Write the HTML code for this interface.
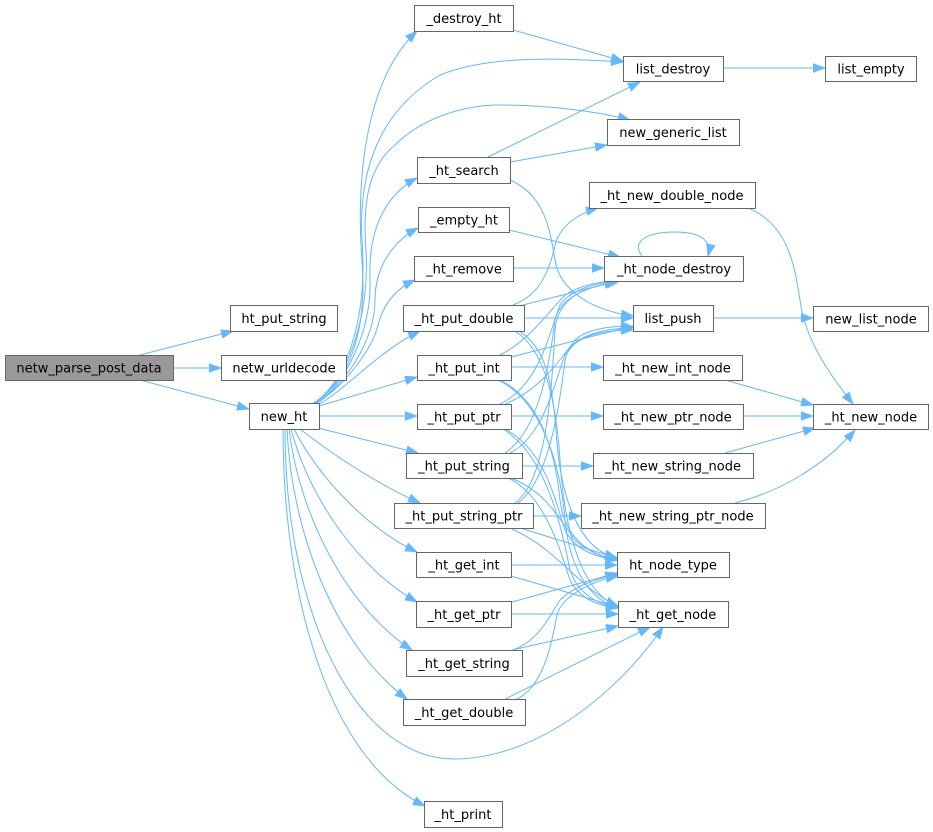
<!DOCTYPE html>
<html><head><meta charset="utf-8"><style>
html,body{margin:0;padding:0;background:#fff;}
svg{display:block;}
text{font-family:"DejaVu Sans","Liberation Sans",sans-serif;font-size:13px;fill:#000;text-anchor:middle;}
.n{fill:#fff;stroke:#666;stroke-width:1;}
.e{fill:none;stroke:#63b8ff;stroke-width:1;}
</style></head><body>
<svg width="933" height="832" viewBox="0 0 933 832" xmlns="http://www.w3.org/2000/svg">
<defs>
<marker id="a" markerWidth="13" markerHeight="11" refX="12" refY="5.5" orient="auto" markerUnits="userSpaceOnUse">
<path d="M0,1 L12.5,5.5 L0,10z" fill="#63b8ff" stroke="#63b8ff" stroke-width="0.5"/>
</marker>
</defs>
<g class="e" marker-end="url(#a)">
<!-- root -->
<path d="M140,355 L233,331"/>
<path d="M173,368 L221,368"/>
<path d="M140,380 L249,409"/>
<!-- new_ht upward -->
<path d="M312,404 C345,385 368,340 362,260 C356,180 365,80 417,31"/>
<path d="M312,404 C345,385 368,320 362,240 C358,170 380,110 440,75 C490,55 560,58 623,62"/>
<path d="M314,404 C345,385 370,320 366,250 C362,200 370,165 395,145 C420,120 460,105 500,105 C550,105 600,112 630,120"/>
<path d="M316,404 C345,385 372,330 370,280 C368,230 385,195 417,178"/>
<path d="M316,404 C345,385 375,340 375,300 C375,265 395,240 418,228"/>
<path d="M316,404 C345,385 372,350 378,325 C385,300 398,288 415,280"/>
<path d="M318,405 C345,390 380,350 420,331"/>
<path d="M319,406 L417,377"/>
<path d="M319,416 L417,416"/>
<path d="M318,428 L418,453"/>
<path d="M300,429 C340,460 380,485 420,503"/>
<path d="M294,429 C320,480 370,530 417,552"/>
<path d="M291,429 C310,500 360,570 417,602"/>
<path d="M289,429 C300,520 350,610 412,650"/>
<path d="M287,429 C292,540 340,650 407,699"/>
<path d="M285,429 C285,620 360,760 455,759 C540,758 620,690 663,627"/>
<path d="M283,429 C283,600 330,760 425,806"/>
<!-- top area -->
<path d="M513,30 L623,61"/>
<path d="M723,68 L825,68"/>
<path d="M488,157 L640,82"/>
<path d="M510,162 L607,145"/>
<path d="M510,180 C545,195 550,230 555,260 C560,290 590,310 633,316"/>
<path d="M509,230 L620,257"/>
<path d="M513,268 L604,268"/>
<path d="M642,256 C630,240 650,232 675,232 C700,232 712,240 708,256"/>
<!-- put_double -->
<path d="M513,305 C540,295 550,270 555,245 C560,225 580,213 598,208"/>
<path d="M523,305 L618,281"/>
<path d="M524,318 L633,318"/>
<path d="M517,330 C545,345 552,380 556,430 C560,500 580,550 617,558"/>
<path d="M515,331 C545,350 556,400 560,460 C565,540 585,595 618,606"/>
<!-- put_int -->
<path d="M511,367 L603,367"/>
<path d="M511,357 L633,326"/>
<path d="M500,355 C530,340 550,310 565,295 C580,285 600,282 617,280"/>
<path d="M500,380 C540,400 555,450 560,500 C565,540 590,555 618,560"/>
<path d="M498,380 C540,400 560,460 565,520 C570,570 590,600 618,608"/>
<!-- put_ptr -->
<path d="M511,416 L603,416"/>
<path d="M505,404 C540,390 560,360 575,340 C585,330 610,325 633,327"/>
<path d="M500,404 C540,385 550,330 560,305 C570,290 595,283 617,281"/>
<path d="M505,429 C545,450 555,500 565,530 C575,550 595,557 618,560"/>
<path d="M503,429 C545,455 560,520 570,570 C578,595 600,605 618,608"/>
<!-- put_string -->
<path d="M522,466 L593,466"/>
<path d="M510,453 C545,435 555,380 565,355 C575,335 605,328 633,328"/>
<path d="M505,453 C540,430 550,360 555,320 C560,295 595,285 617,282"/>
<path d="M510,478 C545,490 560,520 575,540 C590,553 605,558 618,560"/>
<path d="M508,478 C545,495 560,550 570,580 C580,600 600,606 618,608"/>
<!-- put_string_ptr -->
<path d="M533,516 L581,516"/>
<path d="M518,503 C550,480 560,400 565,360 C570,335 605,330 633,330"/>
<path d="M515,503 C548,480 552,380 555,330 C558,295 590,285 617,283"/>
<path d="M520,528 L617,558"/>
<path d="M510,528 C560,550 580,590 618,606"/>
<!-- gets -->
<path d="M511,565 L617,565"/>
<path d="M511,576 L618,607"/>
<path d="M512,602 L617,573"/>
<path d="M511,614 L618,614"/>
<path d="M513,650 C540,640 550,615 560,600 C575,585 600,578 618,574"/>
<path d="M512,650 L618,626"/>
<path d="M517,699 C545,685 552,640 557,615 C562,595 595,580 618,576"/>
<path d="M505,699 L650,627"/>
<!-- right side -->
<path d="M713,318 L813,318"/>
<path d="M748,208 C790,225 795,270 800,300 C805,340 830,375 853,404"/>
<path d="M725,380 L813,405"/>
<path d="M743,416 L813,416"/>
<path d="M725,453 L815,428"/>
<path d="M735,503 C775,493 820,470 855,430"/>
</g>
<!-- nodes -->
<rect x="5.5" y="355.5" width="168" height="25" fill="#999" stroke="#666"/>
<text x="89" y="372.5">netw_parse_post_data</text>
<rect class="n" x="230.5" y="305.5" width="107" height="26"/><text x="284" y="323">ht_put_string</text>
<rect class="n" x="221.5" y="355.5" width="125" height="25"/><text x="284" y="372.5">netw_urldecode</text>
<rect class="n" x="249.5" y="403.5" width="70" height="26"/><text x="284" y="421">new_ht</text>
<rect class="n" x="414.5" y="5.5" width="99" height="26"/><text x="464" y="23">_destroy_ht</text>
<rect class="n" x="623.5" y="56.5" width="100" height="25"/><text x="673" y="73.5">list_destroy</text>
<rect class="n" x="825.5" y="56.5" width="91" height="25"/><text x="871" y="73.5">list_empty</text>
<rect class="n" x="607.5" y="119.5" width="132" height="26"/><text x="673" y="137">new_generic_list</text>
<rect class="n" x="417.5" y="157.5" width="93" height="26"/><text x="464" y="175">_ht_search</text>
<rect class="n" x="589.5" y="182.5" width="166" height="26"/><text x="672" y="200">_ht_new_double_node</text>
<rect class="n" x="418.5" y="207.5" width="91" height="25"/><text x="464" y="224.5">_empty_ht</text>
<rect class="n" x="604.5" y="256.5" width="139" height="25"/><text x="674" y="273.5">_ht_node_destroy</text>
<rect class="n" x="414.5" y="256.5" width="99" height="25"/><text x="464" y="273.5">_ht_remove</text>
<rect class="n" x="403.5" y="305.5" width="121" height="26"/><text x="464" y="323">_ht_put_double</text>
<rect class="n" x="633.5" y="305.5" width="80" height="26"/><text x="673" y="323">list_push</text>
<rect class="n" x="813.5" y="306.5" width="115" height="25"/><text x="871" y="323.5">new_list_node</text>
<rect class="n" x="417.5" y="355.5" width="94" height="25"/><text x="464" y="372.5">_ht_put_int</text>
<rect class="n" x="603.5" y="355.5" width="139" height="25"/><text x="673" y="372.5">_ht_new_int_node</text>
<rect class="n" x="417.5" y="404.5" width="94" height="25"/><text x="464" y="421.5">_ht_put_ptr</text>
<rect class="n" x="603.5" y="404.5" width="140" height="25"/><text x="673" y="421.5">_ht_new_ptr_node</text>
<rect class="n" x="813.5" y="404.5" width="115" height="25"/><text x="871" y="421.5">_ht_new_node</text>
<rect class="n" x="406.5" y="453.5" width="116" height="25"/><text x="464" y="470.5">_ht_put_string</text>
<rect class="n" x="593.5" y="453.5" width="160" height="25"/><text x="673" y="470.5">_ht_new_string_node</text>
<rect class="n" x="394.5" y="503.5" width="139" height="25"/><text x="464" y="520.5">_ht_put_string_ptr</text>
<rect class="n" x="581.5" y="503.5" width="184" height="25"/><text x="673" y="520.5">_ht_new_string_ptr_node</text>
<rect class="n" x="416.5" y="552.5" width="95" height="25"/><text x="464" y="569.5">_ht_get_int</text>
<rect class="n" x="617.5" y="552.5" width="112" height="25"/><text x="673" y="569.5">ht_node_type</text>
<rect class="n" x="416.5" y="601.5" width="95" height="26"/><text x="464" y="619">_ht_get_ptr</text>
<rect class="n" x="618.5" y="601.5" width="110" height="26"/><text x="673" y="619">_ht_get_node</text>
<rect class="n" x="406.5" y="650.5" width="116" height="26"/><text x="464" y="668">_ht_get_string</text>
<rect class="n" x="403.5" y="699.5" width="122" height="26"/><text x="464" y="717">_ht_get_double</text>
<rect class="n" x="424.5" y="801.5" width="78" height="26"/><text x="463" y="819">_ht_print</text>
</svg>
</body></html>
